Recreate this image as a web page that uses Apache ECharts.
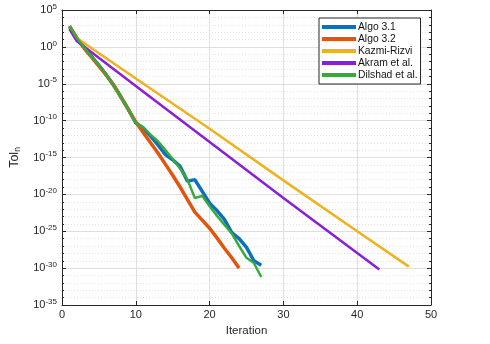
<!DOCTYPE html>
<html>
<head>
<meta charset="utf-8">
<script src="https://cdn.jsdelivr.net/npm/echarts@6/dist/echarts.min.js"></script>
<style>html,body{margin:0;padding:0;background:#fff;}#c{width:490px;height:344px;}</style>
</head>
<body>
<div id="c"></div>
<script>
// Iteration numbers
const iterA = [1,2,3,4,5,6,7,8,9,10,11,12,13,14,15,16,17,18,19,20,21,22,23,24,25,26,27];
const iterB = [1,2,3,4,5,6,7,8,9,10,11,12,13,14,15,16,17,18,19,20,21,22,23,24];
const iterKazmi = [1,2,10,20,30,40,47];
const iterAkram = [1,2,10,20,30,43];
// log10 of Tol_n (the y axis is a decade axis)
const algo31Exp = [2.8,1.2,-0.1,-1.3,-2.5,-3.8,-5.2,-6.8,-8.5,-10.3,-11.0,-12.1,-13.3,-14.6,-15.3,-16.2,-18.2,-18.0,-19.6,-21.2,-22.2,-23.4,-25.2,-26.0,-27.2,-29.0,-29.6];
const algo32Exp = [2.8,1.2,-0.2,-1.4,-2.6,-3.8,-5.2,-6.8,-8.5,-10.2,-11.6,-13.0,-14.4,-15.9,-17.4,-19.0,-20.7,-22.4,-23.5,-24.6,-25.9,-27.3,-28.6,-30.0];
const kazmiExp = [2.7,1.2,-4.3,-11.1,-18.1,-25.0,-29.8];
const akramExp = [2.4,0.8,-5.3,-12.9,-20.5,-30.2];
const dilshadExp = [2.8,1.2,-0.1,-1.3,-2.5,-3.8,-5.2,-6.8,-8.5,-10.3,-10.9,-11.9,-12.8,-14.0,-15.2,-16.5,-18.0,-20.5,-20.2,-21.6,-22.9,-24.1,-25.3,-27.0,-28.6,-29.3,-31.2];
const seriesNames = ['Algo 3.1','Algo 3.2','Kazmi-Rizvi','Akram et al.','Dilshad et al.'];
const xTicks = [0,10,20,30,40,50];
const yTickExps = [5,0,-5,-10,-15,-20,-25,-30,-35];

function pts(xs, es){ return xs.map((x,i)=>[x, es[i]]); }

const axisColor = '#262626';
const FF = 'Liberation Sans, Arial, sans-serif';
const chart = echarts.init(document.getElementById('c'), null, {renderer:'canvas'});
const lab = {color:'#262626', fontFamily:FF, fontSize:11};
const supRich = {s:{fontSize:8, color:'#262626', fontFamily:FF, verticalAlign:'bottom', padding:[0,0,7,0]}};

chart.setOption({
  animation:false,
  backgroundColor:'#fff',
  grid:{left:61, top:10, width:370, height:295},
  legend:{
    orient:'vertical', left:319, top:18, padding:[3,3,3,3],
    backgroundColor:'#fff', borderColor:'#262626', borderWidth:1, borderRadius:0,
    itemWidth:34, itemHeight:4, itemGap:0, icon:'rect',
    textStyle:{fontSize:10.3, color:'#111', fontFamily:FF, lineHeight:12, padding:[0,0,0,-3]},
    data:seriesNames
  },
  xAxis:[
    {type:'value', min:0, max:50, interval:10, position:'bottom',
     name:'Iteration', nameLocation:'middle', nameGap:19,
     nameTextStyle:{fontSize:11.5, color:'#262626', fontFamily:FF},
     axisLine:{show:true, onZero:false, lineStyle:{color:axisColor, width:1}},
     axisTick:{show:true, inside:true, length:4, lineStyle:{color:axisColor}},
     axisLabel:Object.assign({margin:4, formatter:(v)=>xTicks.includes(v)?String(v):''}, lab),
     splitLine:{show:true, lineStyle:{color:'#dedede', width:1}}},
    {type:'value', min:0, max:50, interval:10, position:'top',
     axisLine:{show:true, onZero:false, lineStyle:{color:axisColor, width:1}},
     axisTick:{show:true, inside:true, length:4, lineStyle:{color:axisColor}},
     axisLabel:{show:false}, splitLine:{show:false}}
  ],
  yAxis:[
    {type:'value', min:-35, max:5, interval:5, position:'left',
     name:'Tol{b|n}', nameLocation:'middle', nameGap:40,
     nameTextStyle:{fontSize:12.5, color:'#262626', fontFamily:FF,
       rich:{b:{fontSize:8.5, color:'#262626', fontFamily:FF, verticalAlign:'top', padding:[6,0,0,0]}}},
     axisLine:{show:true, onZero:false, lineStyle:{color:axisColor, width:1}},
     axisTick:{show:true, inside:true, length:4, lineStyle:{color:axisColor}},
     minorTick:{show:true, splitNumber:5, length:2, lineStyle:{color:axisColor}},
     minorSplitLine:{show:true, lineStyle:{color:'#e2e2e2', width:1, type:[1,2]}},
     axisLabel:Object.assign({margin:5, rich:supRich, formatter:(v)=>{const e=Math.round(v); return yTickExps.includes(e)?'10{s|'+e+'}':'';}}, lab),
     splitLine:{show:true, lineStyle:{color:'#dedede', width:1}}},
    {type:'value', min:-35, max:5, interval:5, position:'right',
     axisLine:{show:true, onZero:false, lineStyle:{color:axisColor, width:1}}, axisLabel:{show:false},
     axisTick:{show:true, inside:true, length:4, lineStyle:{color:axisColor}},
     minorTick:{show:true, splitNumber:5, length:2, lineStyle:{color:axisColor}},
     splitLine:{show:false}}
  ],
  series:[
    {name:seriesNames[0], type:'line', data:pts(iterA, algo31Exp), showSymbol:false, color:'#0c6fc0', lineStyle:{width:3.5, color:'#0c6fc0'}},
    {name:seriesNames[1], type:'line', data:pts(iterB, algo32Exp), showSymbol:false, color:'#e0560e', lineStyle:{width:3.5, color:'#e0560e'}},
    {name:seriesNames[2], type:'line', data:pts(iterKazmi, kazmiExp), showSymbol:false, color:'#efb11e', lineStyle:{width:2.5, color:'#efb11e'}},
    {name:seriesNames[3], type:'line', data:pts(iterAkram, akramExp), showSymbol:false, color:'#8a1fd6', lineStyle:{width:2.5, color:'#8a1fd6'}},
    {name:seriesNames[4], type:'line', data:pts(iterA, dilshadExp), showSymbol:false, color:'#3aa83a', lineStyle:{width:2.5, color:'#3aa83a'}}
  ]
});
</script>
</body>
</html>
